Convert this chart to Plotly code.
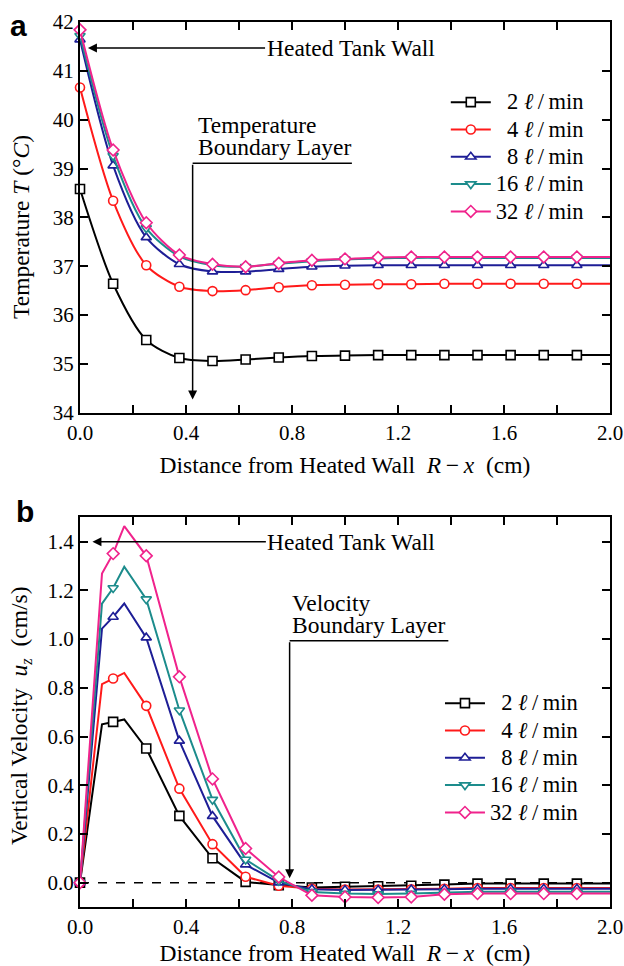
import plotly.graph_objects as go

# ---------------- data ----------------
dist_T = [0.0, 0.125, 0.25, 0.375, 0.5, 0.625, 0.75, 0.875, 1.0,
          1.125, 1.25, 1.375, 1.5, 1.625, 1.75, 1.875, 2.0]
temp_2 = [38.58, 36.64, 35.49, 35.12, 35.06, 35.09, 35.13, 35.16, 35.17,
          35.18, 35.18, 35.18, 35.18, 35.18, 35.18, 35.18, 35.18]
temp_4 = [40.66, 38.34, 37.02, 36.58, 36.49, 36.51, 36.57, 36.61, 36.62,
          36.63, 36.63, 36.64, 36.64, 36.64, 36.64, 36.64, 36.64]
temp_8 = [41.64, 39.06, 37.59, 37.04, 36.89, 36.89, 36.94, 36.99, 37.01,
          37.02, 37.02, 37.02, 37.02, 37.02, 37.02, 37.02, 37.02]
temp_16 = [41.72, 39.26, 37.78, 37.20, 37.02, 36.99, 37.05, 37.10, 37.14,
           37.16, 37.17, 37.17, 37.17, 37.17, 37.17, 37.17, 37.17]
temp_32 = [41.84, 39.38, 37.89, 37.23, 37.04, 36.99, 37.06, 37.12, 37.15,
           37.18, 37.19, 37.19, 37.19, 37.19, 37.19, 37.19, 37.19]
marked_T = [True] * 16 + [False]

dist_u = [0.0, 0.083, 0.125, 0.167, 0.25, 0.375, 0.5, 0.625, 0.75, 0.875,
          1.0, 1.125, 1.25, 1.375, 1.5, 1.625, 1.75, 1.875, 2.0]
vel_2 = [0.0, 0.650, 0.660, 0.670, 0.551, 0.274, 0.100, 0.003, -0.010, -0.020,
         -0.017, -0.015, -0.013, -0.008, -0.004, -0.004, -0.004, -0.004, -0.004]
vel_4 = [0.0, 0.815, 0.838, 0.861, 0.726, 0.386, 0.158, 0.024, -0.013, -0.025,
         -0.028, -0.028, -0.027, -0.025, -0.022, -0.022, -0.022, -0.022, -0.022]
vel_8 = [0.0, 1.043, 1.091, 1.146, 1.006, 0.582, 0.273, 0.074, 0.000, -0.027,
         -0.030, -0.030, -0.028, -0.027, -0.025, -0.025, -0.025, -0.025, -0.025]
vel_16 = [0.0, 1.146, 1.210, 1.297, 1.164, 0.708, 0.341, 0.095, 0.008, -0.038,
          -0.045, -0.047, -0.045, -0.040, -0.037, -0.037, -0.037, -0.037, -0.037]
vel_32 = [0.0, 1.269, 1.351, 1.464, 1.342, 0.845, 0.426, 0.140, 0.023, -0.052,
          -0.059, -0.061, -0.059, -0.048, -0.045, -0.045, -0.045, -0.045, -0.045]
marked_u = [True, False, True, False] + [True] * 14 + [False]

flow_labels = ["2", "4", "8", "16", "32"]
x_ticks = [0.0, 0.2, 0.4, 0.6, 0.8, 1.0, 1.2, 1.4, 1.6, 1.8, 2.0]
x_ticklabels = ["0.0", "", "0.4", "", "0.8", "", "1.2", "", "1.6", "", "2.0"]
T_ticks = [34, 35, 36, 37, 38, 39, 40, 41, 42]
u_ticks = [0.0, 0.2, 0.4, 0.6, 0.8, 1.0, 1.2, 1.4]

# ---------------- styles ----------------
colors = ["#000000", "#FF1A1A", "#1E1E96", "#1C8C8C", "#F0238C"]
symbols = ["square", "circle", "triangle-up", "triangle-down", "diamond"]
SERIF = "Liberation Serif, Times New Roman, Times, serif"
TRANSP = "rgba(0,0,0,0)"


def big(s, px=23.5):
    return f'<span style="font-size:{px}px">{s}</span>'


def label(n):
    pad = "\u2002" * (2 - len(n))
    return big(f"{pad}{n} <i>ℓ</i>\u2009/\u2009min", 22.5)


fig = go.Figure()

temps = [temp_2, temp_4, temp_8, temp_16, temp_32]
vels = [vel_2, vel_4, vel_8, vel_16, vel_32]

for i in range(5):
    c = colors[i]
    fig.add_trace(go.Scatter(
        x=dist_T, y=temps[i], mode="lines+markers", name=label(flow_labels[i]),
        xaxis="x", yaxis="y", legend="legend", cliponaxis=False,
        line=dict(color=c, width=2, shape="spline", smoothing=0.8),
        marker=dict(symbol=symbols[i], size=9,
                    color=["white" if m else TRANSP for m in marked_T],
                    line=dict(width=1.6,
                              color=[c if m else TRANSP for m in marked_T]))))

for i in range(5):
    c = colors[i]
    fig.add_trace(go.Scatter(
        x=dist_u, y=vels[i], mode="lines+markers", name=label(flow_labels[i]),
        xaxis="x2", yaxis="y2", legend="legend2", cliponaxis=False,
        line=dict(color=c, width=2),
        marker=dict(symbol=symbols[i], size=9,
                    color=["white" if m else TRANSP for m in marked_u],
                    line=dict(width=1.6,
                              color=[c if m else TRANSP for m in marked_u]))))

tickfont = dict(family=SERIF, size=21, color="black")
titlefont = dict(family=SERIF, size=23.5, color="black")
common_x = dict(range=[0, 2], tickvals=x_ticks, ticktext=x_ticklabels,
                ticks="inside", ticklen=8, tickwidth=2, tickcolor="black",
                showline=True, linewidth=2, linecolor="black", mirror="ticks",
                showgrid=False, zeroline=False, tickfont=tickfont,
                automargin=False)
common_y = dict(ticks="inside", ticklen=8, tickwidth=2, tickcolor="black",
                showline=True, linewidth=2, linecolor="black", mirror="ticks",
                showgrid=False, zeroline=False, tickfont=tickfont,
                automargin=False)

xtitle = "Distance from Heated Wall  <i>R</i>\u2009−\u2009<i>x</i>\u2002(cm)"

legend_common = dict(bgcolor="rgba(0,0,0,0)",
                     font=dict(family=SERIF, size=18.7, color="black"),
                     tracegroupgap=0, itemwidth=40)

fig.update_layout(
    width=624, height=966,
    margin=dict(l=80, r=14, t=22, b=59, autoexpand=False),
    paper_bgcolor="white", plot_bgcolor="white",
    font=dict(family=SERIF, color="black"),
    xaxis=dict(domain=[0, 1], anchor="y",
               title=dict(text=xtitle, font=titlefont, standoff=13), **common_x),
    yaxis=dict(domain=[0.5585, 1.0], anchor="x", range=[34, 42],
               tickvals=T_ticks, **common_y),
    xaxis2=dict(domain=[0, 1], anchor="y2",
                title=dict(text=xtitle, font=titlefont, standoff=13), **common_x),
    yaxis2=dict(domain=[0, 0.4403], anchor="x2", range=[-0.1, 1.5],
                tickvals=u_ticks, tickformat=".1f", **common_y),
    legend=dict(x=0.960, xanchor="right", y=0.9305, yanchor="top",
                **legend_common),
    legend2=dict(x=0.949, xanchor="right", y=0.2514, yanchor="top",
                 **legend_common),
    showlegend=True,
)

annfont = dict(family=SERIF, size=23.5, color="black")
tightfont = dict(family=SERIF, size=16.8, color="black")
arrow = dict(showarrow=True, arrowhead=2, arrowsize=1.2, arrowwidth=1.5,
             arrowcolor="black", standoff=0)

# y-axis titles (placed as rotated text beside each panel)
fig.add_annotation(xref="paper", yref="paper", x=(21 - 80) / 530,
                   y=(907 - 227) / 885, xanchor="center", yanchor="middle",
                   textangle=-90, showarrow=False, font=titlefont,
                   text="Temperature <i>T</i> (°<i>C</i>)")
fig.add_annotation(xref="paper", yref="paper", x=(21 - 80) / 530,
                   y=(907 - 716) / 885, xanchor="center", yanchor="middle",
                   textangle=-90, showarrow=False, font=titlefont,
                   text="Vertical Velocity  <i>u</i><sub><i>z</i></sub>  (cm/s)")

# zero line in velocity panel
fig.add_shape(type="line", xref="x2", yref="y2", x0=0, x1=2, y0=0, y1=0,
              line=dict(color="black", width=1.5, dash="dash"), layer="below")

# Panel a annotations
fig.add_annotation(xref="x", yref="y", x=0.03, y=41.47, ax=1.021, ay=41.47,
                   axref="x", ayref="y", text="Heated Tank Wall", font=annfont,
                   **arrow)
fig.add_annotation(xref="x", yref="y", x=0.437, y=39.11, xanchor="left",
                   yanchor="bottom", align="left", showarrow=False,
                   text=big("Temperature") + "<br>" + big("Boundary Layer"),
                   font=tightfont, yshift=1)
fig.add_shape(type="line", xref="x", yref="y", x0=0.425, x1=1.026,
              y0=39.11, y1=39.11, line=dict(color="black", width=1.5))
fig.add_annotation(xref="x", yref="y", x=0.425, y=34.27, ax=0.425, ay=39.11,
                   axref="x", ayref="y", text="", **arrow)

# Panel b annotations
fig.add_annotation(xref="x2", yref="y2", x=0.047, y=1.4, ax=1.024, ay=1.4,
                   axref="x2", ayref="y2", text="Heated Tank Wall",
                   font=annfont, **arrow)
fig.add_annotation(xref="x2", yref="y2", x=0.791, y=0.993, xanchor="left",
                   yanchor="bottom", align="left", showarrow=False,
                   text=big("Velocity") + "<br>" + big("Boundary Layer"),
                   font=tightfont, yshift=1)
fig.add_shape(type="line", xref="x2", yref="y2", x0=0.791, x1=1.39,
              y0=0.993, y1=0.993, line=dict(color="black", width=1.5))
fig.add_annotation(xref="x2", yref="y2", x=0.791, y=0.018, ax=0.791, ay=0.993,
                   axref="x2", ayref="y2", text="", **arrow)

# panel letters
fig.add_annotation(xref="paper", yref="paper", x=-0.135, y=1.0,
                   xanchor="left", yanchor="bottom", showarrow=False,
                   text="<b>a</b>", yshift=-22,
                   font=dict(family="Liberation Sans, Arial, sans-serif",
                             size=30, color="black"))
fig.add_annotation(xref="paper", yref="paper", x=-0.125, y=0.4403,
                   xanchor="left", yanchor="bottom", showarrow=False,
                   text="<b>b</b>", yshift=-13,
                   font=dict(family="Liberation Sans, Arial, sans-serif",
                             size=30, color="black"))

fig.write_html("out.html")
